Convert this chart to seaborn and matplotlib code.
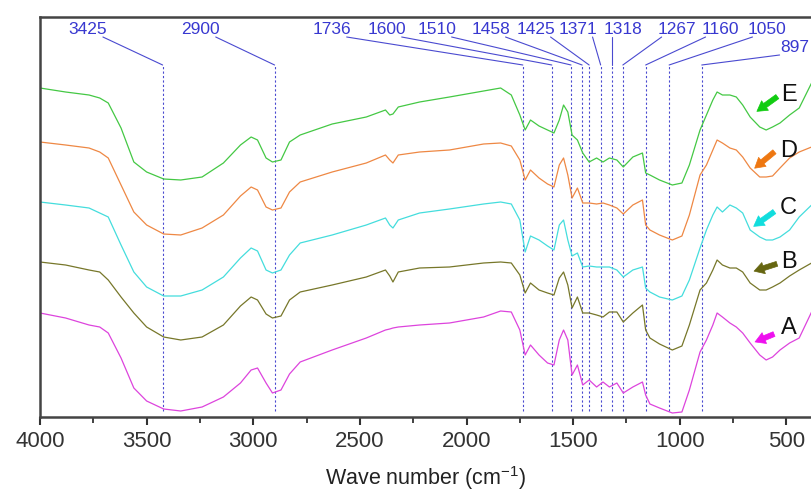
import numpy as np
import pandas as pd
import matplotlib
matplotlib.use("Agg")
import matplotlib.pyplot as plt
import seaborn as sns

# ---------------- data ----------------
wavenumber = [4000, 3880, 3770, 3720, 3680, 3620, 3560, 3500, 3420, 3340,
              3240, 3140, 3060, 3010, 2980, 2940, 2910, 2870, 2830, 2780,
              2630, 2470, 2380, 2360, 2345, 2320, 2220, 2080, 1920, 1840,
              1790, 1750, 1725, 1700, 1660, 1620, 1590, 1565, 1545, 1525,
              1505, 1480, 1455, 1425, 1390, 1360, 1330, 1295, 1265, 1220,
              1175, 1160, 1140, 1095, 1035, 990, 955, 905, 875, 845,
              825, 800, 765, 735, 705, 670, 625, 595, 565, 530,
              485, 440, 382]

series_A = [104, 99, 92, 90, 84, 59, 29, 16, 8, 6,
            10, 20, 34, 47, 49, 34, 24, 27, 43, 55,
            67, 79, 87, 88, 89, 90, 92, 94, 100, 106,
            105, 87, 62, 72, 62, 54, 52, 77, 87, 77,
            42, 52, 32, 37, 30, 35, 30, 34, 24, 30,
            35, 22, 13, 9, 4, 5, 27, 65, 77, 92,
            104, 100, 94, 90, 84, 74, 62, 57, 60, 67,
            74, 79, 105]
series_B = [155, 152, 147, 145, 137, 120, 104, 90, 80, 77,
            80, 92, 111, 120, 117, 103, 99, 101, 117, 125,
            132, 140, 147, 141, 135, 145, 149, 150, 154, 155,
            154, 142, 124, 134, 127, 124, 122, 139, 145, 132,
            109, 120, 104, 104, 102, 100, 105, 105, 95, 104,
            112, 87, 79, 73, 67, 71, 92, 127, 134, 147,
            157, 152, 149, 149, 145, 134, 127, 127, 130, 134,
            141, 147, 154]
series_C = [215, 212, 209, 204, 200, 172, 145, 130, 121, 121,
            127, 140, 159, 169, 166, 147, 144, 147, 162, 174,
            182, 192, 199, 192, 189, 197, 204, 208, 213, 215,
            213, 197, 165, 181, 177, 171, 167, 192, 197, 177,
            161, 164, 150, 151, 150, 150, 150, 147, 140, 147,
            150, 129, 125, 120, 117, 121, 137, 169, 187, 202,
            210, 205, 212, 209, 204, 187, 180, 177, 177, 180,
            187, 200, 212]
series_D = [275, 272, 269, 265, 259, 232, 205, 192, 183, 182,
            189, 202, 221, 230, 227, 210, 207, 209, 225, 235,
            245, 254, 262, 257, 254, 262, 265, 267, 273, 274,
            271, 257, 237, 247, 239, 233, 230, 252, 259, 242,
            219, 229, 214, 214, 213, 214, 212, 209, 203, 212,
            217, 192, 187, 182, 177, 181, 202, 242, 252, 267,
            277, 274, 269, 267, 260, 249, 240, 240, 241, 249,
            259, 265, 270]
series_E = [329, 325, 322, 319, 314, 289, 255, 245, 238, 237,
            240, 254, 272, 280, 277, 259, 255, 257, 275, 282,
            293, 300, 307, 302, 303, 310, 315, 320, 326, 329,
            322, 302, 287, 297, 291, 287, 284, 297, 312, 305,
            282, 277, 264, 255, 259, 255, 259, 257, 250, 260,
            264, 244, 242, 237, 232, 234, 252, 287, 302, 317,
            325, 322, 322, 320, 312, 300, 290, 287, 290, 294,
            302, 309, 334]

series_names = ["A", "B", "C", "D", "E"]
peak_labels = [3425, 2900, 1736, 1600, 1510, 1458, 1425, 1371, 1318,
               1267, 1160, 1050, 897]
x_ticks = [4000, 3500, 3000, 2500, 2000, 1500, 1000, 500]

# ---------------- layout / style ----------------
line_colors = {"A": "#dd44dd", "B": "#77772a", "C": "#44dddd",
               "D": "#ee8844", "E": "#44c844"}
arrow_colors = {"A": "#ee11ee", "B": "#666611", "C": "#11dddd",
                "D": "#ee7711", "E": "#11cc11"}
# arrow tail / head and letter positions (wavenumber, value)
arrow_tail = {"E": (532, 322), "D": (546, 267), "C": (546, 207),
              "B": (532, 154), "A": (546, 84)}
arrow_head = {"E": (649, 304), "D": (659, 247), "C": (664, 189),
              "B": (664, 145), "A": (659, 74)}
letter_pos = {"E": (490, 322), "D": (490, 266), "C": (490, 209),
              "B": (490, 155), "A": (490, 89)}
# peak label text positions
peak_label_x = [3775, 3246, 2632, 2374, 2140, 1887, 1676, 1479, 1268,
                1015, 809, 589, 462]
peak_label_y = [387] * 12 + [369]
dash_top, dash_bottom = 352, 6

sns.set_theme(style="ticks")
plt.rcParams["font.family"] = ["Liberation Sans", "DejaVu Sans"]
plt.rcParams["mathtext.fontset"] = "custom"
plt.rcParams["mathtext.rm"] = "Liberation Sans"

fig = plt.figure(figsize=(8.12, 4.91), dpi=100)
ax = fig.add_axes([40 / 812, 74 / 491, 772 / 812, 400 / 491])

df = pd.DataFrame({
    "wavenumber": wavenumber * 5,
    "value": series_A + series_B + series_C + series_D + series_E,
    "sample": sum([[n] * len(wavenumber) for n in series_names], []),
})
sns.lineplot(data=df, x="wavenumber", y="value", hue="sample",
             palette=line_colors, estimator=None, sort=False,
             linewidth=0.9, legend=False, ax=ax)

# dashed peak markers + labels with leader lines
peak_col = "#4a4ad0"
for pk, lx, ly in zip(peak_labels, peak_label_x, peak_label_y):
    ax.plot([pk, pk], [dash_bottom, dash_top], color=peak_col, lw=0.8,
            ls=(0, (2, 2)), zorder=1)
    sx = lx + float(np.clip(pk - lx, -70, 70))
    ax.plot([sx, pk], [ly - 7, dash_top], color=peak_col, lw=0.8,
            zorder=1)
    ax.text(lx, ly, str(pk), ha="center", va="center", fontsize=12.5,
            color="#3838d0")

# sample letters and arrows
for n in series_names:
    ax.annotate("", xy=arrow_head[n], xytext=arrow_tail[n],
                arrowprops=dict(arrowstyle="simple,head_width=0.7,head_length=0.6,tail_width=0.3",
                                fc=arrow_colors[n], ec=arrow_colors[n], lw=0.5))
    ax.text(letter_pos[n][0], letter_pos[n][1], n, ha="center",
            va="center", fontsize=17, color="#111111")

ax.set_xlim(4000, 380)
ax.set_ylim(0, 400)
ax.set_xticks(x_ticks)
ax.set_xticks([3750, 3250, 2750, 2250, 1750, 1250, 750], minor=True)
ax.set_yticks([])
ax.tick_params(axis="x", which="major", direction="out", length=6,
               width=1.5, labelsize=16, colors="#333333", pad=4)
ax.tick_params(axis="x", which="minor", direction="out", length=4,
               width=1.3, colors="#333333")
ax.set_xlabel("Wave number (cm$^{\\mathregular{-1}}$)", fontsize=15.5,
              color="#222222", labelpad=9)
ax.set_ylabel("")
for s in ["left", "top", "bottom"]:
    ax.spines[s].set_visible(True)
    ax.spines[s].set_linewidth(1.8)
    ax.spines[s].set_color("#444444")
ax.spines["right"].set_visible(False)

fig.savefig("out.png", dpi=100)
